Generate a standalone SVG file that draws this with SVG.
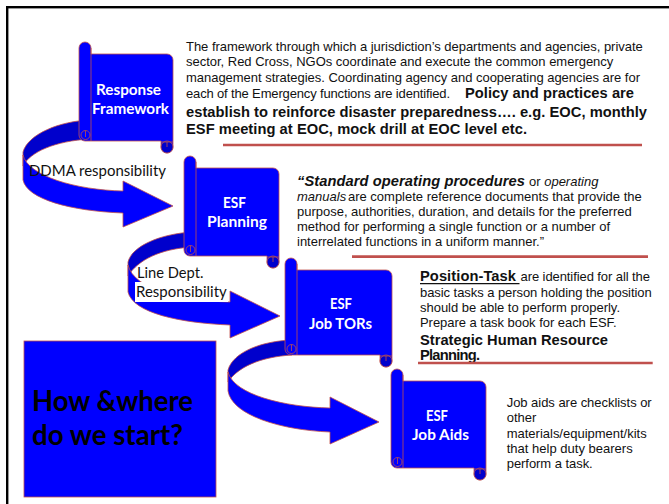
<svg xmlns="http://www.w3.org/2000/svg" width="669" height="504" viewBox="0 0 669 504">
<style>
.t{font-family:"Liberation Sans",Arial,sans-serif;font-size:13px;fill:#111}
.b{font-weight:bold;font-size:14.7px}
.i{font-style:italic}
.c{font-family:Lato,"Open Sans",sans-serif;font-size:16px;fill:#111}
.lbl{font-family:Lato,"Open Sans",sans-serif;font-weight:bold;font-size:16px;fill:#fff}
.sh{fill:#0000ff;stroke:#c0504d;stroke-width:0.8}
.dk{fill:#0000cc;stroke:#c0504d;stroke-width:0.8}
.ln{fill:none;stroke:#c0504d;stroke-width:0.8}
.rl{stroke:#c0504d;stroke-width:2.7}
</style>
<rect x="7.2" y="7.2" width="700" height="600" fill="#fff" stroke="#000" stroke-width="2.4"/>

<g id="connectors">
  <g id="arrow1">
    <path class="dk" d="M90,120 C60,121 28,134 23,152 L23,166 C30,152 55,141 90,139 Z"/>
    <path class="sh" d="M23,155 C28,176 76,190 123,191 L123,181 L173,206 L123,227 L123,213 C70,211 27,199 23,180 Z"/>
  </g>
  <g id="arrow2">
    <path class="dk" d="M192,232 C160,234 132,246 128,262 L128,276 C138,260 160,249 192,247 Z"/>
    <path class="sh" d="M128,265 C134,290 184,301 230,302 L230,291 L280,316 L230,338 L230,325 C180,323 133,313 128,292 Z"/>
  </g>
  <g id="arrow3">
    <path class="dk" d="M292,340 C262,341 233,352 228,370 L228,382 C238,367 260,357 292,355 Z"/>
    <path class="sh" d="M228,372 C234,395 285,407 330,408 L330,397 L379,422 L330,444 L330,432 C280,430 232,415 228,391 Z"/>
  </g>
  <text class="c" x="29" y="175.7" textLength="137" lengthAdjust="spacingAndGlyphs">DDMA responsibility</text>
  <rect x="135" y="282" width="93" height="20" fill="#fff"/>
  <text class="c" x="137" y="278" textLength="66.5" lengthAdjust="spacingAndGlyphs">Line Dept.</text>
  <text class="c" x="136" y="296.7" textLength="90.7" lengthAdjust="spacingAndGlyphs">Responsibility</text>
</g>

<g id="response-framework">
  <path class="sh" d="M79,48 A6,6 0 0 1 91,48 L91,54 L167,54 A6,6 0 0 1 173,60 L173,147 A6,6 0 0 1 161,147 L161,141 L85,141 A6,6 0 0 1 79,135 Z"/>
  <path class="ln" d="M91,48 V141"/>
  <circle class="ln" cx="85.5" cy="135" r="4.5"/>
  <path class="ln" d="M85.5,130.5 V137"/>
  <circle class="dk" cx="167" cy="147" r="6"/>
  <path class="ln" d="M161,142 H173 M167,142 V147"/>
  <text class="lbl" x="96" y="94.5" textLength="65" lengthAdjust="spacingAndGlyphs">Response</text>
  <text class="lbl" x="92" y="114" textLength="77" lengthAdjust="spacingAndGlyphs">Framework</text>
</g>

<g id="esf-planning">
  <path class="sh" d="M184,162 A6,6 0 0 1 196,162 L196,168 L273,168 A6,6 0 0 1 279,174 L279,262 A6,6 0 0 1 267,262 L267,256 L190,256 A6,6 0 0 1 184,250 Z"/>
  <path class="ln" d="M196,162 V256"/>
  <circle class="ln" cx="190.5" cy="250" r="4.5"/>
  <path class="ln" d="M190.5,245.5 V252"/>
  <circle class="dk" cx="273" cy="262" r="6"/>
  <path class="ln" d="M267,257 H279 M273,257 V262"/>
  <text class="lbl" x="223" y="208" textLength="23" lengthAdjust="spacingAndGlyphs">ESF</text>
  <text class="lbl" x="207" y="226.5" textLength="60" lengthAdjust="spacingAndGlyphs">Planning</text>
</g>

<g id="esf-job-tors">
  <path class="sh" d="M285,264 A6,6 0 0 1 297,264 L297,270 L386,270 A6,6 0 0 1 392,276 L392,361 A6,6 0 0 1 380,361 L380,355 L291,355 A6,6 0 0 1 285,349 Z"/>
  <path class="ln" d="M297,264 V355"/>
  <circle class="ln" cx="291.5" cy="349" r="4.5"/>
  <path class="ln" d="M291.5,344.5 V351"/>
  <circle class="dk" cx="386" cy="361" r="6"/>
  <path class="ln" d="M380,356 H392 M386,356 V361"/>
  <text class="lbl" x="330" y="309" textLength="22" lengthAdjust="spacingAndGlyphs">ESF</text>
  <text class="lbl" x="309" y="329" textLength="63" lengthAdjust="spacingAndGlyphs">Job TORs</text>
</g>

<g id="esf-job-aids">
  <path class="sh" d="M391,375 A6,6 0 0 1 403,375 L403,381 L480,381 A6,6 0 0 1 486,387 L486,474 A6,6 0 0 1 474,474 L474,468 L397,468 A6,6 0 0 1 391,462 Z"/>
  <path class="ln" d="M403,375 V468"/>
  <circle class="ln" cx="397.5" cy="462" r="4.5"/>
  <path class="ln" d="M397.5,457.5 V464"/>
  <circle class="dk" cx="480" cy="474" r="6"/>
  <path class="ln" d="M474,469 H486 M480,469 V474"/>
  <text class="lbl" x="426" y="420.5" textLength="22" lengthAdjust="spacingAndGlyphs">ESF</text>
  <text class="lbl" x="412" y="440" textLength="57" lengthAdjust="spacingAndGlyphs">Job Aids</text>
</g>

<g id="how-where">
  <rect x="24" y="341" width="192" height="156" fill="#0000ff" stroke="#c0504d" stroke-width="0.8"/>
  <text class="c" style="font-weight:bold;font-size:28px;fill:#000" x="32" y="411" textLength="161" lengthAdjust="spacingAndGlyphs">How &amp;where</text>
  <text class="c" style="font-weight:bold;font-size:28px;fill:#000" x="32" y="445" textLength="151" lengthAdjust="spacingAndGlyphs">do we start?</text>
</g>

<g id="text-framework">
  <text class="t" x="186" y="50.5" textLength="456.7">The framework through which a jurisdiction’s departments and agencies, private</text>
  <text class="t" x="186" y="66" textLength="427.3">sector, Red Cross, NGOs coordinate and execute the common emergency</text>
  <text class="t" x="186" y="81.5" textLength="454">management strategies. Coordinating agency and cooperating agencies are for</text>
  <text class="t" x="186" y="97.5" textLength="264">each of the Emergency functions are identified.</text>
  <text class="t b" x="465" y="97.5" textLength="169">Policy and practices are</text>
  <text class="t b" x="186" y="116.5" textLength="461">establish to reinforce disaster preparedness…. e.g. EOC, monthly</text>
  <text class="t b" x="186" y="134" textLength="341">ESF meeting at EOC, mock drill at EOC level etc.</text>
  <line class="rl" x1="223" y1="145" x2="642" y2="145"/>
</g>

<g id="text-sop">
  <text class="t b i" x="297" y="186" textLength="228">“Standard operating procedures</text>
  <text class="t" x="529" y="186">or <tspan class="i">operating</tspan></text>
  <text class="t i" x="297" y="200.7">manuals</text>
  <text class="t" x="348" y="200.7" textLength="293.7">are complete reference documents that provide the</text>
  <text class="t" x="297" y="216" textLength="334.7">purpose, authorities, duration, and details for the preferred</text>
  <text class="t" x="297" y="231" textLength="313">method for performing a single function or a number of</text>
  <text class="t" x="297" y="246" textLength="247">interrelated functions in a uniform manner.”</text>
  <line class="rl" x1="352" y1="256.7" x2="648" y2="256.7"/>
</g>

<g id="text-position">
  <text class="t b" x="420" y="281" textLength="96">Position-Task</text>
  <line x1="420" y1="283.6" x2="519.5" y2="283.6" stroke="#111" stroke-width="1.3"/>
  <text class="t" x="520.5" y="281" textLength="129.5">are identified for all the</text>
  <text class="t" x="420" y="296.7" textLength="231.7">basic tasks a person holding the position</text>
  <text class="t" x="420" y="312" textLength="200">should be able to perform properly.</text>
  <text class="t" x="420" y="327.3" textLength="196.7">Prepare a task book for each ESF.</text>
  <text class="t b" x="420" y="345" textLength="188">Strategic Human Resource</text>
  <text class="t b" x="420" y="360" textLength="60">Planning.</text>
  <line class="rl" x1="418" y1="363" x2="652.7" y2="363"/>
</g>

<g id="text-jobaids">
  <text class="t" x="506.7" y="407.3" textLength="145">Job aids are checklists or</text>
  <text class="t" x="506.7" y="422.3">other</text>
  <text class="t" x="506.7" y="437.7" textLength="140">materials/equipment/kits</text>
  <text class="t" x="506.7" y="453.3" textLength="126">that help duty bearers</text>
  <text class="t" x="506.7" y="468.3" textLength="86">perform a task.</text>
</g>
</svg>
